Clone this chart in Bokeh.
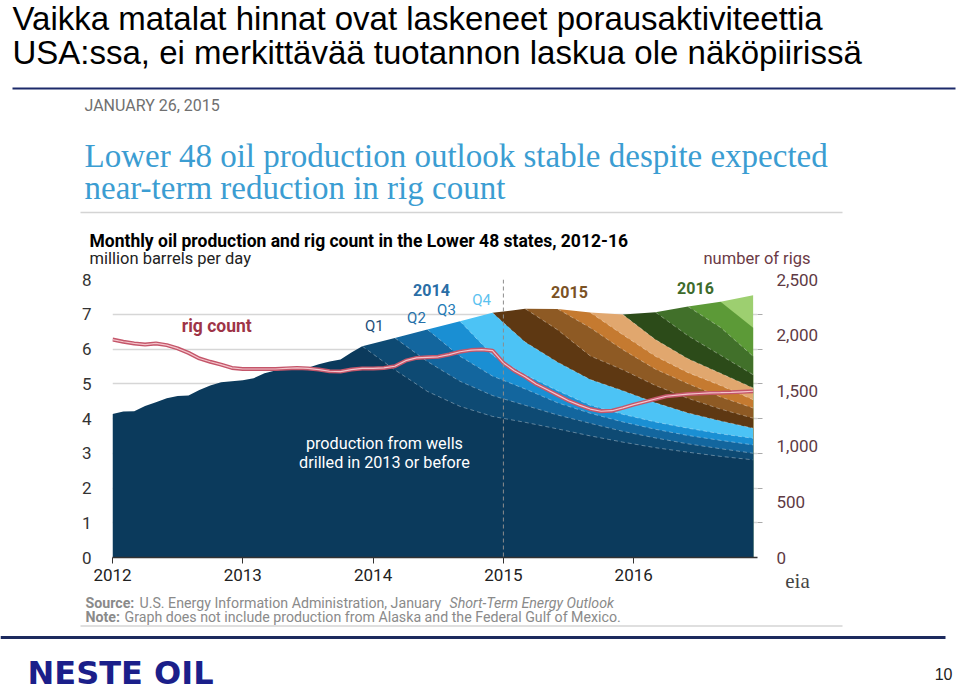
from bokeh.plotting import figure
from bokeh.models import Range1d, LinearAxis, FixedTicker, NumeralTickFormatter, Span, Label
from bokeh.layouts import column
from bokeh.embed import file_html
from bokeh.resources import INLINE
from bokeh.core.properties import value

# ---------------- data ----------------
# months counted from Jan 2012 (0) to Dec 2016 (59)
hist_months = list(range(0, 23))
base_hist = [4.13, 4.20, 4.21, 4.36, 4.47, 4.58, 4.65, 4.66, 4.82, 4.95, 5.04, 5.07,
             5.10, 5.16, 5.30, 5.38, 5.41, 5.43, 5.46, 5.56, 5.64, 5.70, 5.90]
quarter_months = [23, 26, 29, 32, 35, 38, 41, 44, 47, 50, 53, 56, 59]

# cumulative production (million b/d) at the top of each vintage, from its first quarter on
wells_2013_before = [6.08, 5.40, 4.78, 4.35, 4.06, 3.89, 3.70, 3.50, 3.32, 3.16, 3.03, 2.91, 2.81]
q1_2014 = [6.08, 6.32, 5.64, 5.07, 4.66, 4.38, 4.10, 3.86, 3.63, 3.44, 3.27, 3.13, 3.00]
q2_2014 = [6.32, 6.56, 5.79, 5.22, 4.85, 4.45, 4.15, 3.90, 3.69, 3.51, 3.37, 3.24]
q3_2014 = [6.56, 6.80, 5.82, 5.26, 4.80, 4.38, 4.12, 3.90, 3.72, 3.56, 3.43]
q4_2014 = [6.80, 7.04, 6.20, 5.62, 5.12, 4.80, 4.45, 4.16, 3.93, 3.72]
q1_2015 = [7.04, 7.16, 6.55, 5.80, 5.40, 4.95, 4.58, 4.27, 4.01]
q2_2015 = [7.16, 7.15, 6.61, 5.98, 5.42, 5.00, 4.62, 4.30]
q3_2015 = [7.15, 7.05, 6.41, 5.79, 5.32, 4.95, 4.54]
q4_2015 = [7.05, 6.99, 6.27, 5.72, 5.30, 4.88]
q1_2016 = [6.99, 7.06, 6.38, 5.82, 5.26]
q2_2016 = [7.06, 7.22, 6.62, 5.79]
q3_2016 = [7.22, 7.36, 6.61]
q4_2016 = [7.36, 7.55]

rig_months = list(range(0, 60))
rig_count = [1960, 1940, 1925, 1915, 1925, 1910, 1880, 1840, 1790, 1760, 1735, 1705,
             1695, 1695, 1695, 1695, 1700, 1705, 1700, 1690, 1675, 1672, 1690, 1700,
             1700, 1705, 1720, 1770, 1795, 1800, 1805, 1825, 1850, 1865, 1870, 1860,
             1750, 1680, 1625, 1560, 1510, 1460, 1410, 1370, 1335, 1315, 1320, 1345,
             1375, 1400, 1425, 1450, 1460, 1470, 1475, 1480, 1482, 1485, 1490, 1495]

year_ticks = [2012, 2013, 2014, 2015, 2016]
prod_ticks = [0, 1, 2, 3, 4, 5, 6, 7, 8]
rig_ticks = [0, 500, 1000, 1500, 2000, 2500]

vintages = [wells_2013_before, q1_2014, q2_2014, q3_2014, q4_2014,
            q1_2015, q2_2015, q3_2015, q4_2015, q1_2016, q2_2016, q3_2016, q4_2016]
colors = ["#0b3a5c", "#0e4a73", "#13669e", "#1a8fd3", "#4cc3f5",
          "#5e3812", "#8e5a24", "#c57a30", "#e1a76e",
          "#2c4b19", "#41702a", "#5c9a37", "#9dcf70"]

NARROW = "Roboto"
SANS = "Liberation Sans"


def yr(m):
    return 2012 + m / 12.0


def ttext(fig, x, y, s, size, color="#000000", font=SANS, style="normal", align="left"):
    fig.text(x=[x], y=[y], text=[s], text_font=value(font), text_font_size=size,
             text_color=color, text_font_style=style, text_align=align,
             text_baseline="middle")


# ---------------- top (slide title + EIA header) ----------------
top = figure(width=960, height=270, x_range=Range1d(0, 960), y_range=Range1d(270, 0),
             output_backend="svg", toolbar_location=None, x_axis_location=None,
             y_axis_location=None, min_border=0, outline_line_color=None, frame_align=False)
top.grid.visible = False

ttext(top, 12, 17.5, "Vaikka matalat hinnat ovat laskeneet porausaktiviteettia", "33px")
ttext(top, 12, 51.5, "USA:ssa, ei merkittävää tuotannon laskua ole näköpiirissä", "33px")
top.line(x=[12, 955], y=[88, 88], line_color="#1c2a6a", line_width=2)
ttext(top, 84, 105, "JANUARY 26, 2015", "16px", color="#707070", font=NARROW)
ttext(top, 84, 155, "Lower 48 oil production outlook stable despite expected", "33px",
      color="#3b9dd2", font="Liberation Serif")
ttext(top, 84, 187, "near-term reduction in rig count", "33px",
      color="#3b9dd2", font="Liberation Serif")
top.line(x=[80, 842], y=[212, 212], line_color="#d4d4d4", line_width=1.5)
ttext(top, 89, 240, "Monthly oil production and rig count in the Lower 48 states, 2012-16",
      "17.5px", font=NARROW, style="bold")
ttext(top, 89, 258, "million barrels per day", "16.5px", color="#222222", font=NARROW)
ttext(top, 703, 258, "number of rigs", "16.5px", color="#6b3a45", font=NARROW)

# ---------------- chart ----------------
p = figure(width=960, height=322, x_range=Range1d(2012, 2012 + 645 / 130.3),
           y_range=Range1d(0, 8), output_backend="svg", toolbar_location=None,
           min_border_left=112, min_border_right=203, min_border_top=9,
           min_border_bottom=35, outline_line_color=None, frame_align=False)
p.xgrid.visible = False
p.ygrid.grid_line_color = "#d6d6d6"
p.ygrid.grid_line_width = 1.5

p.extra_y_ranges = {"rigs": Range1d(0, 2500)}

# stacked vintages painted from top layer down
for k in range(len(vintages) - 1, -1, -1):
    vals = vintages[k]
    if k == 0:
        ms = hist_months + quarter_months
        ys = base_hist + vals
    else:
        ms = quarter_months[k - 1:]
        ys = vals
    p.varea(x=[yr(m) for m in ms], y1=0, y2=ys, fill_color=colors[k])

# faint dashed boundaries of the declining vintages
for k in range(0, 11):
    vals = vintages[k]
    if k == 0:
        ms, ys = quarter_months, vals
    else:
        ms, ys = quarter_months[k:], vals[1:]
    p.line(x=[yr(m) for m in ms], y=ys, line_color="#ffffff", line_alpha=0.35,
           line_width=1, line_dash="4 3")

p.add_layout(Span(location=2015, dimension="height", line_color="#8c8c8c",
                  line_dash="4 3", line_width=1))

# rig count line (right axis)
rx = [yr(m) for m in rig_months]
p.line(x=rx, y=rig_count, y_range_name="rigs", line_color="#c4566a", line_width=4)
p.line(x=rx, y=rig_count, y_range_name="rigs", line_color="#f4c4cb", line_width=1.2)

# axes
xa = p.xaxis[0]
xa.ticker = FixedTicker(ticks=year_ticks)
xa.axis_line_color = "#333333"
xa.axis_line_width = 1.5
xa.major_tick_out = 6
xa.major_tick_in = 0
xa.major_tick_line_color = "#333333"
xa.minor_tick_line_color = None
xa.major_label_standoff = 5
xa.major_label_text_font = NARROW
xa.major_label_text_font_size = "17px"
xa.major_label_text_color = "#222222"

ya = p.yaxis[0]
ya.ticker = FixedTicker(ticks=prod_ticks)
ya.axis_line_color = None
ya.major_tick_line_color = None
ya.minor_tick_line_color = None
ya.major_label_standoff = 15
ya.major_label_text_font = NARROW
ya.major_label_text_font_size = "17px"
ya.major_label_text_color = "#333333"
p.ygrid.ticker = FixedTicker(ticks=prod_ticks)

ra = LinearAxis(y_range_name="rigs",
                ticker=FixedTicker(ticks=rig_ticks, minor_ticks=[312.5 * i for i in range(1, 8)]),
                formatter=NumeralTickFormatter(format="0,0"))
ra.axis_line_color = None
ra.major_tick_out = 0
ra.major_tick_in = 0
ra.minor_tick_out = 5
ra.minor_tick_in = 0
ra.minor_tick_line_color = "#aaaaaa"
ra.major_label_standoff = 14
ra.major_label_text_font = NARROW
ra.major_label_text_font_size = "17px"
ra.major_label_text_color = "#5e3a44"
p.add_layout(ra, "right")


def ctext(x, y, s, size, color, style="normal", align="center"):
    p.text(x=[x], y=[y], text=[s], text_font=value(NARROW), text_font_size=size,
           text_color=color, text_font_style=style, text_align=align, text_baseline="middle")

ctext(2012.80, 6.65, "rig count", "17.5px", "#9e3447", style="bold")
ctext(2014.01, 6.65, "Q1", "15px", "#1e4e79")
ctext(2014.333, 6.88, "Q2", "15px", "#2670a8")
ctext(2014.563, 7.11, "Q3", "15px", "#2279b5")
ctext(2014.832, 7.40, "Q4", "15px", "#5bc2ef")
ctext(2014.448, 7.70, "2014", "16px", "#2a6ea6", style="bold")
ctext(2015.507, 7.64, "2015", "16px", "#7b5224", style="bold")
ctext(2016.474, 7.75, "2016", "16px", "#3e6b2b", style="bold")
ctext(2014.087, 3.28, "production from wells", "16.2px", "#ffffff")
ctext(2014.087, 2.73, "drilled in 2013 or before", "16.2px", "#ffffff")

p.add_layout(Label(x=2017.257, y=-0.67, text="eia", text_align="center", text_baseline="middle",
                   text_font="Liberation Serif", text_font_size="21px",
                   text_color="#444444"), "right")

# ---------------- footer ----------------
bot = figure(width=960, height=99, x_range=Range1d(0, 960), y_range=Range1d(691, 592),
             output_backend="svg", toolbar_location=None, x_axis_location=None,
             y_axis_location=None, min_border=0, outline_line_color=None, frame_align=False)
bot.grid.visible = False
GRAY = "#8a8a8a"
ttext(bot, 85, 602, "Source:", "14.2px", color=GRAY, font=NARROW, style="bold")
ttext(bot, 139, 602, "U.S. Energy Information Administration, January", "14.2px", color=GRAY, font=NARROW)
ttext(bot, 449, 602, "Short-Term Energy Outlook", "14.2px", color=GRAY, font=NARROW, style="italic")
ttext(bot, 85, 616.5, "Note:", "14.2px", color=GRAY, font=NARROW, style="bold")
ttext(bot, 124, 616.5, "Graph does not include production from Alaska and the Federal Gulf of Mexico.",
      "14.2px", color=GRAY, font=NARROW)
bot.line(x=[80, 842], y=[625.5, 625.5], line_color="#d4d4d4", line_width=1.5)
bot.line(x=[0, 945], y=[637, 637], line_color="#1c2a5e", line_width=3)
ttext(bot, 27, 672, "NESTE OIL", "32px", color="#1b1f8a", font="DejaVu Sans", style="bold")
ttext(bot, 952, 673, "10", "16px", color="#222222", font=SANS, align="right")

layout = column(top, p, bot, spacing=0)
open("out.html", "w").write(file_html(layout, INLINE))
